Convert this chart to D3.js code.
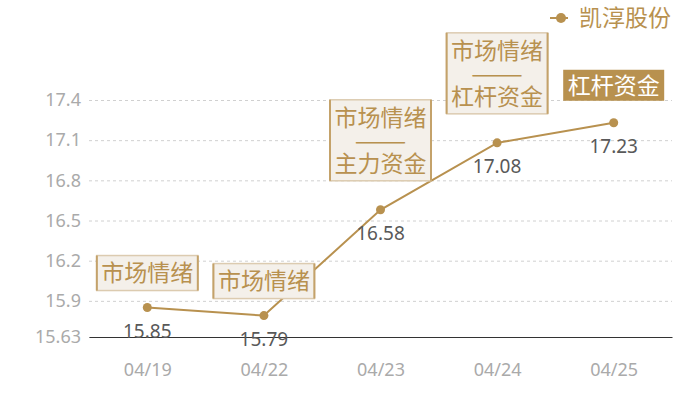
<!DOCTYPE html>
<html>
<head>
<meta charset="utf-8">
<script src="https://cdn.jsdelivr.net/npm/d3@7"></script>
<style>
  body { margin: 0; background: #fff; }
  svg { display: block; }
  text { font-family: "Noto Sans", "Noto Sans CJK SC", sans-serif; }
  .cjk { font-family: "Noto Sans CJK SC", sans-serif; }
</style>
</head>
<body>
<svg width="700" height="400"></svg>
<script>
  const seriesName = '凯淳股份';
  const dates = ['04/19', '04/22', '04/23', '04/24', '04/25'];
  const prices = [15.85, 15.79, 16.58, 17.08, 17.23];
  const yTicks = [15.63, 15.9, 16.2, 16.5, 16.8, 17.1, 17.4];
  const tags = [
    ['市场情绪'],
    ['市场情绪'],
    ['市场情绪', '——', '主力资金'],
    ['市场情绪', '——', '杠杆资金'],
    ['杠杆资金']
  ];
  const highlighted = [false, false, false, false, true];

  const gold = '#b8914f';
  const svg = d3.select('svg');
  const margin = { top: 100, right: 28, bottom: 63, left: 89 };
  const width = +svg.attr('width');
  const height = +svg.attr('height');
  const innerWidth = width - margin.left - margin.right;
  const innerHeight = height - margin.top - margin.bottom;

  const xScale = d3.scalePoint()
    .domain(dates)
    .range([0, innerWidth])
    .padding(0.5);

  const yScale = d3.scaleLinear()
    .domain([15.63, 17.4])
    .range([innerHeight, 0]);

  const g = svg.append('g')
    .attr('transform', `translate(${margin.left},${margin.top})`);

  // grid + y labels
  const yAxis = d3.axisLeft(yScale)
    .tickValues(yTicks)
    .tickFormat(d => d)
    .tickSize(-innerWidth)
    .tickPadding(8);
  const yAxisG = g.append('g').call(yAxis);
  yAxisG.select('.domain').remove();
  yAxisG.selectAll('.tick line')
    .attr('stroke', '#d0d0d0')
    .attr('stroke-dasharray', '3,3');
  yAxisG.selectAll('.tick text')
    .attr('fill', '#aaaaaa')
    .attr('font-size', 18)
    .attr('font-family', '"Noto Sans", sans-serif');

  // x axis
  const xAxisG = g.append('g')
    .attr('transform', `translate(0,${innerHeight})`)
    .call(d3.axisBottom(xScale).tickSize(0).tickPadding(26));
  xAxisG.select('.domain').attr('stroke', '#333');
  xAxisG.selectAll('.tick text')
    .attr('fill', '#aaaaaa')
    .attr('font-size', 18)
    .attr('font-family', '"Noto Sans", sans-serif');

  const points = dates.map((d, i) => ({ date: d, value: prices[i], tag: tags[i], hi: highlighted[i] }));

  const line = d3.line()
    .x(d => xScale(d.date))
    .y(d => yScale(d.value));

  g.append('path')
    .datum(points)
    .attr('fill', 'none')
    .attr('stroke', gold)
    .attr('stroke-width', 2)
    .attr('d', line);

  g.selectAll('.dot').data(points)
    .enter().append('circle')
    .attr('cx', d => xScale(d.date))
    .attr('cy', d => yScale(d.value))
    .attr('r', 4.5)
    .attr('fill', gold);

  g.selectAll('.val').data(points)
    .enter().append('text')
    .attr('x', d => xScale(d.date))
    .attr('y', d => yScale(d.value) + 30)
    .attr('text-anchor', 'middle')
    .attr('fill', '#595959')
    .attr('font-size', 19)
    .text(d => d.value.toFixed(2));

  // tag boxes
  const lineH = 23;
  const boxW = 101;
  points.forEach(d => {
    const n = d.tag.length;
    const boxH = d.hi ? 31 : (n === 1 ? 35 : 81);
    const gap = d.hi ? 22 : (n === 1 ? 17 : 29);
    const cx = xScale(d.date);
    const bottom = yScale(d.value) - gap;
    const top = bottom - boxH;
    const bg = g.append('g');
    bg.append('rect')
      .attr('x', cx - boxW / 2)
      .attr('y', top)
      .attr('width', boxW)
      .attr('height', boxH)
      .attr('fill', d.hi ? gold : '#f4f0ea')
      .attr('stroke', d.hi ? 'none' : '#dccbb0')
      .attr('stroke-width', 1.5);
    if (!d.hi) {
      [cx - boxW / 2, cx + boxW / 2].forEach(x => {
        bg.append('line')
          .attr('x1', x).attr('x2', x)
          .attr('y1', top).attr('y2', bottom)
          .attr('stroke', '#c4a26a')
          .attr('stroke-width', 2);
      });
    }
    const textTop = top + (boxH - n * lineH) / 2;
    d.tag.forEach((t, j) => {
      const txt = bg.append('text')
        .attr('class', 'cjk')
        .attr('x', cx)
        .attr('y', textTop + j * lineH + lineH / 2)
        .attr('dy', '0.36em')
        .attr('text-anchor', 'middle')
        .attr('fill', d.hi ? '#ffffff' : gold)
        .attr('font-size', 23)
        .text(t);
      if (t === '——') {
        txt.attr('textLength', 52).attr('lengthAdjust', 'spacingAndGlyphs');
      }
    });
  });

  // legend
  const lg = svg.append('g').attr('transform', 'translate(550,18)');
  lg.append('line')
    .attr('x1', 0).attr('x2', 18)
    .attr('stroke', gold).attr('stroke-width', 2);
  lg.append('circle')
    .attr('cx', 11).attr('r', 5)
    .attr('fill', gold);
  lg.append('text')
    .attr('class', 'cjk')
    .attr('x', 29)
    .attr('dy', '0.36em')
    .attr('fill', gold)
    .attr('font-size', 23)
    .text(seriesName);
</script>
</body>
</html>
